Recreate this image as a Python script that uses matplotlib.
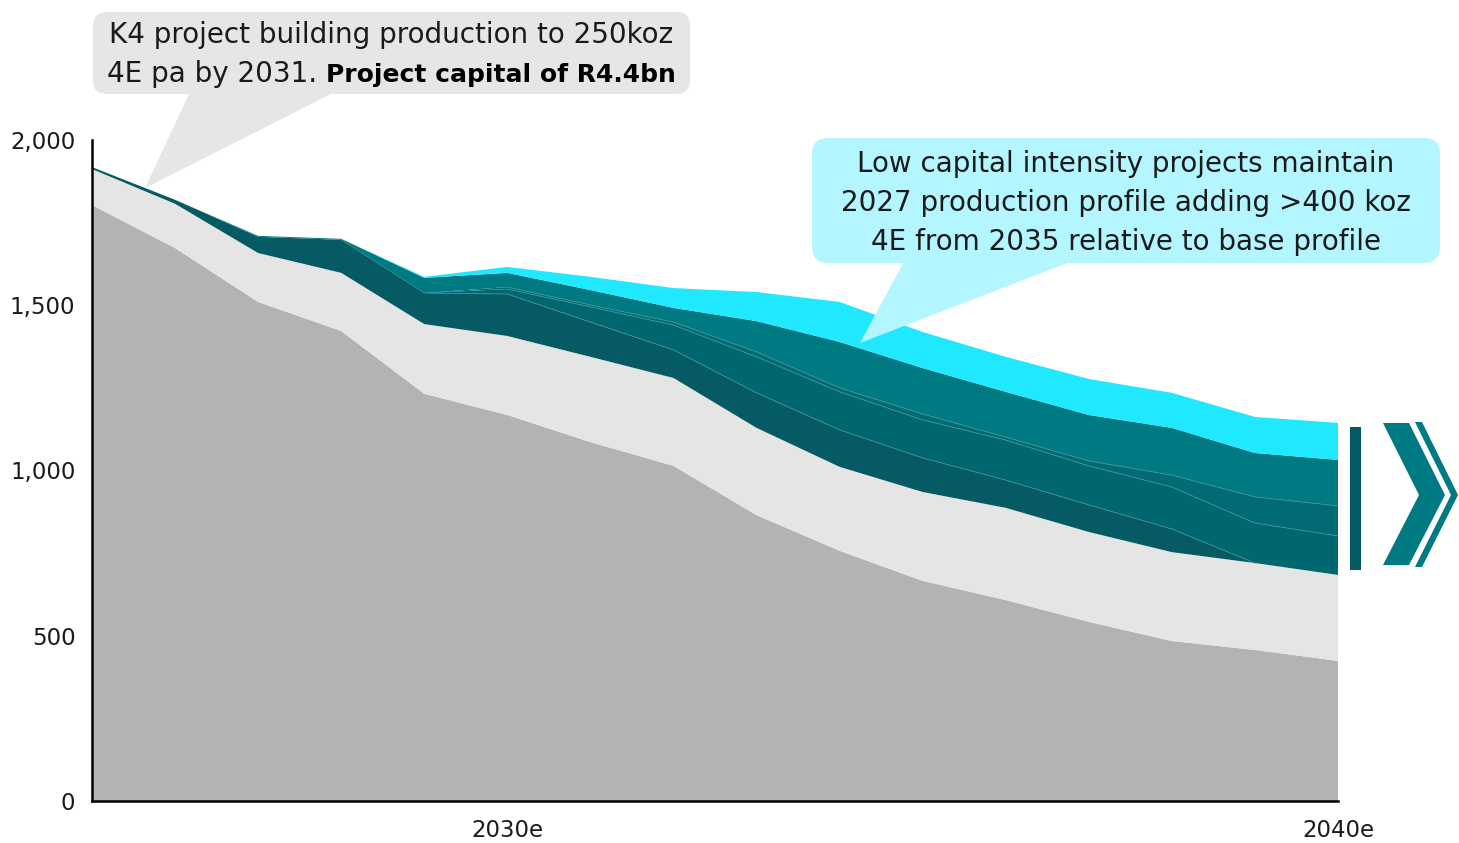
import matplotlib
matplotlib.use("Agg")
import matplotlib.pyplot as plt
from matplotlib.patches import FancyBboxPatch, Polygon, Rectangle
from matplotlib.offsetbox import TextArea, HPacker, AnnotationBbox
import numpy as np

years = list(range(2025, 2041))

# koz 4E, stacked bottom to top
base = [1803, 1673, 1510, 1422, 1232, 1168, 1086, 1014, 865, 757, 666, 608, 542, 484, 457, 424]
other = [109, 134, 148, 176, 211, 239, 258, 266, 264, 254, 269, 279, 272, 269, 263, 260]
k4 = [6, 12, 49, 100, 94, 127, 105, 85, 106, 112, 103, 84, 82, 70, 0, 0]
proj_a = [0, 0, 0, 0, 0, 15, 46, 75, 109, 115, 115, 121, 118, 127, 121, 118]
proj_b = [0, 0, 0, 0, 0, 6, 6, 9, 15, 12, 18, 9, 15, 36, 79, 91]
proj_c = [0, 0, 3, 3, 46, 43, 45, 43, 93, 139, 139, 137, 139, 143, 133, 139]
proj_d = [0, 0, 0, 0, 3, 18, 40, 60, 88, 121, 109, 106, 109, 106, 109, 112]

layer_colors = ["#b3b3b3", "#e5e5e5", "#055a63", "#00666f", "#006b74", "#007a82", "#20e8ff"]

ytick_vals = [0, 500, 1000, 1500, 2000]
xtick_vals = [2030, 2040]
xtick_labels = ["2030e", "2040e"]

note_k4 = ["K4 project building production to 250koz", "4E pa by 2031. ", "Project capital of R4.4bn"]
note_low = "Low capital intensity projects maintain\n2027 production profile adding >400 koz\n4E from 2035 relative to base profile"

plt.rcParams['font.family'] = ['DejaVu Sans']

W, H = 1459, 843
fig = plt.figure(figsize=(W / 100, H / 100), dpi=100)
ax = fig.add_axes([92 / W, (H - 801) / H, (1338 - 92) / W, (801 - 140) / H])

layers = [base, other, k4, proj_a, proj_b, proj_c, proj_d]
ax.stackplot(years, *layers, colors=layer_colors, linewidth=0)

# thin separators between the teal project layers
cum = np.cumsum(np.array(layers), axis=0)
yr = np.array(years)
sep = "#3e8f96"
ax.plot(yr[4:15], cum[2][4:15], color=sep, lw=0.6)
ax.plot(yr[5:], cum[3][5:], color=sep, lw=0.6)
ax.plot(yr[5:], cum[4][5:], color=sep, lw=0.6)

ax.set_xlim(2025, 2040)
ax.set_ylim(0, 2000)
ax.set_yticks(ytick_vals)
ax.set_yticklabels([f"{v:,}" for v in ytick_vals])
ax.set_xticks(xtick_vals)
ax.set_xticklabels(xtick_labels)
ax.tick_params(length=0, labelsize=16.5, colors="#1a1a1a")
ax.tick_params(axis="y", pad=12)
ax.tick_params(axis="x", pad=13)
for s in ["top", "right"]:
    ax.spines[s].set_visible(False)
for s in ["left", "bottom"]:
    ax.spines[s].set_linewidth(1.8)
    ax.spines[s].set_color("black")

# overlay in pixel coordinates for callouts and chevron
ov = fig.add_axes([0, 0, 1, 1], zorder=5)
ov.set_xlim(0, W)
ov.set_ylim(H, 0)
ov.axis("off")
ov.patch.set_alpha(0)

# K4 callout
ov.add_patch(FancyBboxPatch((105, 24), 573, 58, boxstyle="round,pad=12,rounding_size=14",
                            fc="#e6e6e6", ec="none"))
ov.add_patch(Polygon([(190, 92), (335, 92), (145, 188)], closed=True, fc="#e6e6e6", ec="none"))
ov.text(391, 35, note_k4[0], ha="center", va="center", fontsize=20, color="#1a1a1a")
pack = HPacker(children=[TextArea(note_k4[1], textprops=dict(fontsize=20, color="#1a1a1a")),
                         TextArea(note_k4[2], textprops=dict(fontsize=18, color="#000000", fontweight="bold"))],
               pad=0, sep=0, align="baseline")
ov.add_artist(AnnotationBbox(pack, (391, 74), frameon=False, box_alignment=(0.5, 0.5)))

# low capital intensity callout
ov.add_patch(FancyBboxPatch((826, 152), 600, 97, boxstyle="round,pad=14,rounding_size=16",
                            fc="#b3f6ff", ec="none"))
ov.add_patch(Polygon([(905, 260), (1075, 260), (860, 343)], closed=True, fc="#b3f6ff", ec="none"))
ov.text(1126, 203, note_low, ha="center", va="center", fontsize=20, color="#1a1a1a",
        linespacing=1.5)

# chevron marker on the right
ov.add_patch(Rectangle((1350, 427), 11, 143, fc="#055a63", ec="none"))
ov.add_patch(Polygon([(1383, 423), (1409, 423), (1445, 495), (1409, 565), (1383, 565), (1419, 495)],
                     closed=True, fc="#007a82", ec="none"))
ov.add_patch(Polygon([(1415, 422), (1422, 422), (1458, 495), (1422, 567), (1415, 567), (1451, 495)],
                     closed=True, fc="#007a82", ec="none"))

fig.savefig("out.png", dpi=100)
